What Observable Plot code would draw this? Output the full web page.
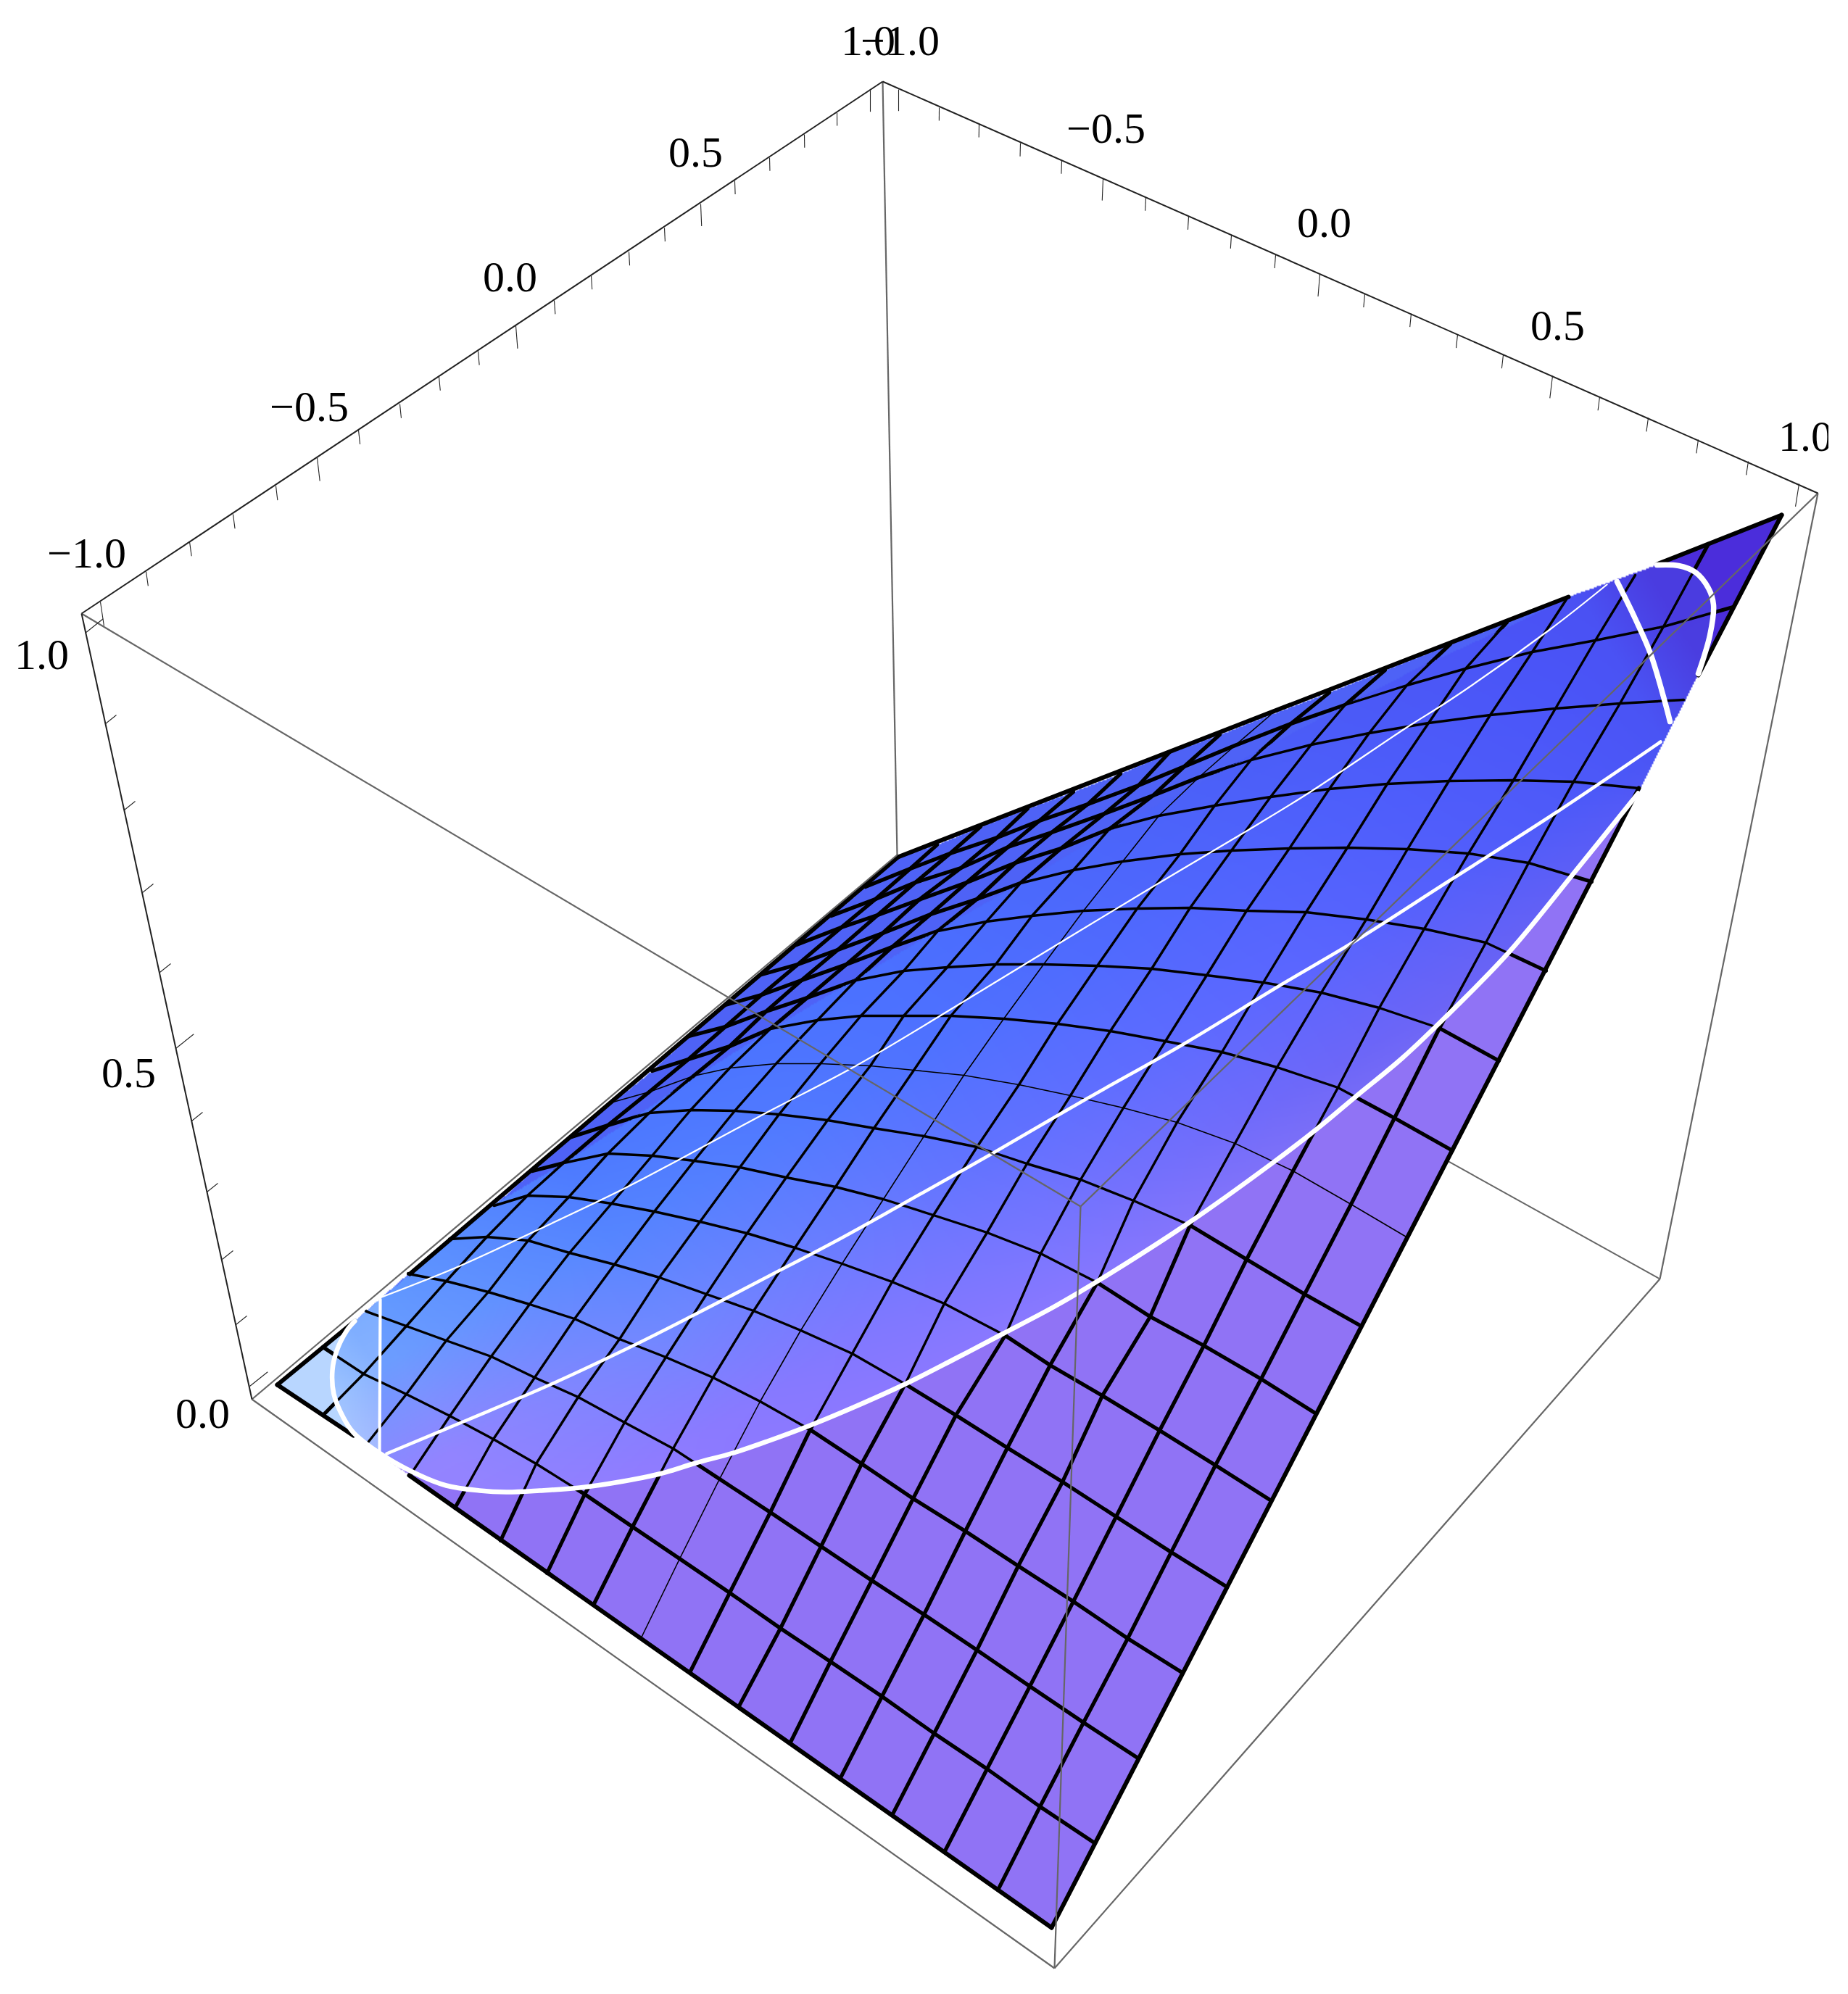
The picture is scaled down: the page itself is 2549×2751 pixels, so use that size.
<!DOCTYPE html>
<html>
<head>
<meta charset="utf-8">
<style>html,body{margin:0;padding:0;background:#fff}svg{display:block}</style>
<script src="https://cdn.jsdelivr.net/npm/d3@7"></script>
<script src="https://cdn.jsdelivr.net/npm/@observablehq/plot@0.6"></script>
</head>
<body>
<div id="chart"></div>
<script>
// Picture-plane readings of the 17x17 surface mesh: row = first axis step, column = second axis step.
const gridX = [
[382,446,505,565,627,690,754,818,884,951,1018,1089,1158,1230,1302,1376,1450],
[445,501,560,620,680,739,806,872,937,1006,1076,1145,1216,1288,1361,1434,1509],
[505,560,615,677,737,797,861,928,992,1062,1132,1202,1274,1347,1420,1494,1569],
[563,615,673,730,792,854,918,983,1048,1117,1188,1259,1331,1404,1480,1555,1630],
[620,671,728,785,847,909,974,1039,1104,1175,1248,1318,1389,1465,1539,1615,1692],
[681,727,784,843,902,965,1030,1096,1161,1230,1302,1386,1448,1520,1599,1676,1753],
[734,777,838,899,957,1020,1084,1152,1218,1287,1361,1435,1513,1586,1660,1739,1815],
[788,838,895,952,1013,1074,1141,1205,1274,1347,1416,1490,1563,1641,1719,1799,1877],
[845,895,956,1006,1070,1131,1200,1260,1329,1405,1476,1549,1623,1703,1783,1863,1941],
[899,949,1006,1062,1127,1187,1246,1311,1384,1458,1531,1607,1685,1761,1845,1923,2003],
[950,1000,1056,1113,1180,1246,1306,1373,1439,1513,1588,1664,1742,1822,1902,1985,2067],
[1000,1050,1105,1167,1230,1293,1360,1423,1494,1568,1641,1719,1801,1884,1964,2049,2132],
[1050,1100,1155,1217,1283,1347,1407,1480,1548,1627,1698,1778,1858,1941,2025,2108,2195],
[1098,1160,1210,1267,1333,1400,1463,1530,1598,1675,1752,1833,1913,1998,2087,2170,2260],
[1146,1207,1262,1325,1390,1450,1523,1590,1653,1725,1808,1888,1970,2055,2145,2234,2322],
[1193,1255,1310,1375,1433,1500,1570,1633,1703,1780,1855,1940,2021,2113,2200,2294,2390],
[1238,1292,1352,1417,1480,1545,1612,1682,1753,1833,1910,2000,2078,2161,2255,2356,2457]
];
const gridY = [
[1910,1951,1992,2035,2080,2125,2170,2214,2259,2307,2355,2405,2454,2504,2555,2607,2659],
[1858,1895,1923,1953,1985,2019,2061,2106,2150,2197,2246,2292,2340,2391,2440,2492,2542],
[1809,1829,1849,1871,1900,1927,1962,1998,2040,2086,2133,2180,2227,2276,2326,2376,2425],
[1757,1767,1782,1799,1819,1847,1872,1900,1933,1972,2019,2067,2112,2160,2209,2260,2307],
[1709,1706,1711,1728,1744,1762,1785,1808,1835,1867,1909,1952,1997,2044,2092,2141,2189],
[1663,1649,1651,1660,1671,1685,1701,1721,1743,1768,1798,1842,1883,1925,1973,2021,2070],
[1615,1604,1591,1594,1601,1610,1624,1637,1654,1676,1700,1729,1769,1816,1856,1902,1950],
[1568,1552,1535,1531,1532,1537,1545,1556,1567,1582,1605,1627,1656,1690,1737,1785,1829],
[1520,1506,1484,1473,1467,1467,1470,1476,1483,1496,1511,1528,1548,1577,1615,1661,1707],
[1477,1461,1443,1419,1407,1401,1401,1401,1405,1412,1422,1436,1451,1472,1500,1542,1587],
[1429,1416,1395,1376,1352,1339,1334,1330,1330,1332,1336,1345,1355,1369,1390,1418,1463],
[1386,1372,1352,1330,1306,1284,1271,1263,1256,1253,1252,1256,1258,1268,1281,1300,1339],
[1344,1330,1310,1287,1261,1240,1218,1200,1188,1178,1173,1170,1169,1171,1177,1190,1216],
[1303,1279,1262,1241,1217,1190,1170,1143,1125,1111,1099,1088,1081,1077,1076,1078,1087],
[1263,1240,1217,1197,1168,1148,1122,1097,1072,1048,1027,1011,997,986,977,970,965],
[1223,1198,1177,1155,1132,1109,1083,1057,1028,998,972,945,922,899,883,864,837],
[1182,1165,1140,1115,1092,1067,1038,1013,985,955,924,888,858,825,793,750,710]
];
// Breaks in the outline of the surface (positions where the black rim stops).
const rimBreakX = [[382,487],[564,1450],[1450,2260],[2342,2457],[2457,2285],[2163,1238],[1238,565],[489,382]];
const rimBreakY = [[1910,1980],[2035,2659],[2659,1087],[931,710],[710,778],[823,1182],[1182,1757],[1822,1910]];
// White curves on the surface.
const lowerCurveX = [489,478,464,458,460,473,487,521,570,615,661,698,744,799,854,909,959,1011,1058,1117,1177,1248,1315,1382,1454,1520,1637,1756,1816,1870,1934,1994,2081,2172,2259];
const lowerCurveY = [1822,1835,1863,1890,1923,1955,1976,2003,2031,2049,2056,2058,2056,2052,2044,2033,2018,2004,1988,1966,1941,1909,1875,1840,1802,1763,1688,1603,1557,1512,1459,1402,1313,1202,1094];
const upperArcX = [2342,2358,2363,2356,2338,2315,2285];
const upperArcY = [929,876,834,811,789,780,779];
const upperBoundX = [2163,2100,1962,1873,1750,1690,1527,1400,1280,1170,1059,925,875,781,684,620,565];
const upperBoundY = [823,855,918,963,1028,1060,1147,1222,1290,1356,1422,1507,1541,1602,1659,1709,1757];
const midCurveX = [533,643,758,877,960,1060,1150,1242,1368,1499,1632,1765,1870,1998,2145,2290];
const midCurveY = [2005,1959,1910,1854,1812,1760,1713,1662,1591,1515,1440,1359,1297,1215,1121,1023];
const thinCurveX = [526,634,744,859,937,1054,1180,1334,1462,1591,1719,1807,1940,2000,2136,2216];
const thinCurveY = [1789,1746,1695,1640,1599,1536,1470,1378,1300,1222,1146,1092,1003,965,869,806];
const leftChordX = [524,523];
const leftChordY = [1792,2003];
const rightChordX = [2230,2255,2276,2296,2303];
const rightChordY = [802,853,901,968,995];
// Colours of the surface.
const outerColors = {corner:"#b8d6ff", tip:"#4b2ddb", strip:"#4e62f6", flank:"#9073f5"};
const shadeAlong = [30,130,160,500,1000,1500,2000,2100,2200];
const shadeAcross = [-100,50,200,350,450];
const shadeTable = [
["#88bcff","#a8ccff","#b0c4ff","#b0c4ff","#b0c4ff"],
["#72a8ff","#88b2ff","#a4a6ff","#a4a0ff","#a4a0ff"],
["#5c9aff","#6c9cff","#9284ff","#9880ff","#9880ff"],
["#4a76ff","#5585ff","#7088ff","#8a7aff","#9078ff"],
["#4a70ff","#4f72ff","#6072ff","#7876ff","#8a78ff"],
["#4a60f8","#5064fd","#5a66ff","#6c66f8","#8070f5"],
["#4a52f4","#4a55f8","#4c58f8","#6860f2","#8070f0"],
["#4a50f2","#4a52f4","#4a54f4","#6058f0","#8070f0"],
["#4a3ce0","#4a3ce0","#4a40e0","#4a40e0","#4a40e0"]
];
// Bounding box corners, picture plane.
const cornerNames = ["A","B","C","D","a","b","c","d"];
const cornerX = [112,1217,2507,1490,347,1237,2289,1454];
const cornerY = [846,112,680,1664,1930,1179,1764,2715];
const darkEdges = [["A","B"],["B","C"],["A","a"]];
const greyEdges = [["A","D"],["D","C"],["D","d"],["a","d"],["d","c"],["c","C"],["B","b"],["a","b"]];
const hiddenEdges = [["b","c"]];
// Axis ticks.
const tickValues = [-1,-.9,-.8,-.7,-.6,-.5,-.4,-.3,-.2,-.1,0,.1,.2,.3,.4,.5,.6,.7,.8,.9,1];
const axis1X = [138,201,261,321,380,437,494,551,605,659,711,764,815,867,916,966,1013,1061,1109,1154,1200];
const axis1Y = [830,788,747,709,670,631,593,557,519,484,449,414,380,347,314,281,249,217,185,155,124];
const axis2X = [1239,1295,1350,1407,1464,1521,1580,1639,1698,1759,1820,1882,1946,2010,2073,2141,2206,2273,2342,2411,2481];
const axis2Y = [123,148,171,197,221,246,272,298,324,351,378,405,432,461,489,518,547,576,606,636,667];
const heightValues = [0,.1,.2,.3,.4,.5,.6,.7,.8,.9,1];
const axis3X = [344,325,306,285,264,242,220,196,171,145,117];
const axis3Y = [1912,1827,1737,1644,1546,1446,1341,1231,1117,998,873];
const labelText = ["\u22121.0","\u22120.5","0.0","0.5","1.0","\u22121.0","\u22120.5","0.0","0.5","1.0","0.0","0.5","1.0"];
const labelX = [119,426,703,959,1197,1241,1525,1826,2148,2490,279,177,57];
const labelY = [763,561,382,210,56,56,177,307,449,602,1950,1480,903];

const corner = n => cornerNames.indexOf(n);
const edgeRows = list => list.map(([p,q]) => ({x1:cornerX[corner(p)],y1:cornerY[corner(p)],x2:cornerX[corner(q)],y2:cornerY[corner(q)]}));
const meshRows = [];
for (let i = 1; i < 16; i++) for (let j = 0; j < 17; j++) meshRows.push({line:"u"+i, mid:i===8, x:gridX[i][j], y:gridY[i][j]});
for (let j = 1; j < 16; j++) for (let i = 0; i < 17; i++) meshRows.push({line:"v"+j, mid:j===8, x:gridX[i][j], y:gridY[i][j]});
const rimRows = rimBreakX.flatMap((xs,k) => xs.map((x,m) => ({line:k, x, y:rimBreakY[k][m]})));
const curve = (xs,ys) => xs.map((x,k) => ({x, y:ys[k]}));

const outline = [
  ...gridX[0].map((x,j)=>[x,gridY[0][j]]),
  ...gridX.map((r,i)=>[r[16],gridY[i][16]]),
  ...gridX[16].map((x,j)=>[x,gridY[16][j]]).reverse(),
  ...gridX.map((r,i)=>[r[0],gridY[i][0]]).reverse()
];
const innerShape = [
  ...lowerCurveX.map((x,k)=>[x,lowerCurveY[k]]),
  ...upperArcX.map((x,k)=>[x,upperArcY[k]]),
  ...upperBoundX.map((x,k)=>[x,upperBoundY[k]])
];
const along = (x,y) => (x-382)*.866-(y-1910)*.5;
const across = (x,y) => (x-382)*.5+(y-1910)*.866;
const parsed = shadeTable.map(r => r.map(c => d3.rgb(c)));
const bracket = (stops,v) => {
  let k = 0;
  while (k < stops.length-2 && v > stops[k+1]) k++;
  return [k, Math.max(0,Math.min(1,(v-stops[k])/(stops[k+1]-stops[k])))];
};
const outerFill = (x,y) => {
  if (y < 700 || y > 2665 || x < 378 || x > 2462) return null;
  if (!d3.polygonContains(outline,[x,y])) return null;
  if (x < 495) return outerColors.corner;
  if (x > 2280) return outerColors.tip;
  return across(x,y) < 60 ? outerColors.strip : outerColors.flank;
};
const innerFill = (x,y) => {
  if (y < 770 || y > 2065 || x < 455 || x > 2370) return null;
  if (!d3.polygonContains(innerShape,[x,y])) return null;
  const q = x >= 523 ? Math.max(160,along(x,y)) : Math.min(130,along(x,y));
  const [a,s] = bracket(shadeAlong,q);
  const [b,t] = bracket(shadeAcross,across(x,y));
  const c00=parsed[a][b],c01=parsed[a][b+1],c10=parsed[a+1][b],c11=parsed[a+1][b+1];
  const mix = k => Math.round((c00[k]*(1-t)+c01[k]*t)*(1-s)+(c10[k]*(1-t)+c11[k]*t)*s);
  return `rgb(${mix("r")},${mix("g")},${mix("b")})`;
};

const whiteLine = (xs,ys,w) => Plot.line(curve(xs,ys),{x:"x",y:"y",stroke:"#fff",strokeWidth:w,curve:"catmull-rom",strokeLinejoin:"round"});
const ticks = (xs,ys,vals,step,dxs,dys) => Plot.link(vals.map((v,k) => {
  const major = Math.abs(v/step-Math.round(v/step)) < 1e-6;
  const f = major ? 1.65 : 1;
  const t = k/(vals.length-1);
  return {x1:xs[k],y1:ys[k],x2:xs[k]+f*(dxs[0]+(dxs[1]-dxs[0])*t),y2:ys[k]+f*(dys[0]+(dys[1]-dys[0])*t)};
}),{x1:"x1",y1:"y1",x2:"x2",y2:"y2",stroke:"#222",strokeWidth:1.1});
const rasterFrame = {x1:0,x2:2522,y1:0,y2:2751,pixelSize:2};

const chart = Plot.plot({
  width:2549, height:2751,
  marginLeft:0, marginTop:0, marginBottom:0, marginRight:27,
  x:{domain:[0,2522], axis:null},
  y:{domain:[2751,0], axis:null},
  color:{type:"identity"},
  style:{background:"#fff"},
  marks:[
    Plot.link(edgeRows(hiddenEdges),{x1:"x1",y1:"y1",x2:"x2",y2:"y2",stroke:"#666",strokeWidth:2}),
    Plot.raster({fill:outerFill,...rasterFrame}),
    Plot.line(meshRows.filter(d=>!d.mid),{x:"x",y:"y",z:"line",stroke:"#000",strokeWidth:5.2,strokeLinejoin:"round"}),
    Plot.raster({fill:innerFill,...rasterFrame}),
    Plot.line(meshRows.filter(d=>!d.mid),{x:"x",y:"y",z:"line",stroke:"#000",strokeWidth:3.4,strokeLinejoin:"round"}),
    Plot.line(meshRows.filter(d=>d.mid),{x:"x",y:"y",z:"line",stroke:"#000",strokeWidth:1.6,strokeLinejoin:"round"}),
    Plot.line(rimRows,{x:"x",y:"y",z:"line",stroke:"#000",strokeWidth:6,strokeLinecap:"round"}),
    whiteLine(lowerCurveX,lowerCurveY,6.5),
    whiteLine(upperArcX,upperArcY,7.5),
    whiteLine(midCurveX,midCurveY,4.6),
    whiteLine(thinCurveX,thinCurveY,2.2),
    whiteLine(leftChordX,leftChordY,4.2),
    whiteLine(rightChordX,rightChordY,7.5),
    Plot.link(edgeRows(greyEdges),{x1:"x1",y1:"y1",x2:"x2",y2:"y2",stroke:"#666",strokeWidth:2.2}),
    Plot.link(edgeRows(darkEdges),{x1:"x1",y1:"y1",x2:"x2",y2:"y2",stroke:"#222",strokeWidth:2}),
    ticks(axis1X,axis1Y,tickValues,.5,[3,0],[20,18]),
    ticks(axis2X,axis2Y,tickValues,.5,[0,-3],[18,19]),
    ticks(axis3X,axis3Y,heightValues,.5,[15,15],[-12,-12]),
    Plot.text(labelText,{x:(d,k)=>labelX[k],y:(d,k)=>labelY[k],text:d=>d,fontFamily:"Liberation Serif",fontSize:60,fill:"#000",textAnchor:"middle",lineAnchor:"middle",clip:true})
  ]
});
document.getElementById("chart").appendChild(chart);
</script>
</body>
</html>
